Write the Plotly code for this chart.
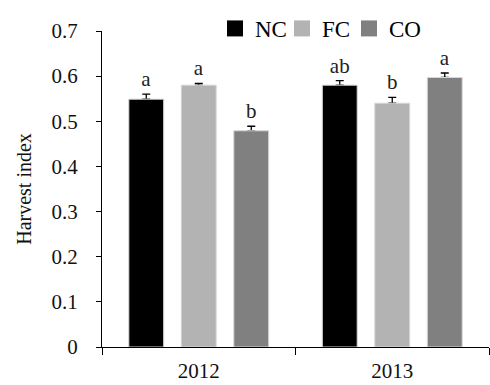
import plotly.graph_objects as go

# Harvest index by year and treatment
years = ["2012", "2013"]
treatments = ["NC", "FC", "CO"]
harvest_index = {
    "NC": [0.549, 0.580],
    "FC": [0.580, 0.540],
    "CO": [0.479, 0.597],
}
std_err = {
    "NC": [0.011, 0.010],
    "FC": [0.004, 0.013],
    "CO": [0.010, 0.010],
}
letters = {
    "NC": ["a", "ab"],
    "FC": ["a", "b"],
    "CO": ["b", "a"],
}
colors = {"NC": "#000000", "FC": "#b3b3b3", "CO": "#808080"}

FONT = "Liberation Serif"

fig = go.Figure()

# Error bars and significance letters sit in transparent bars that share
# each treatment's slot; the filled bars are drawn after them on top.
for t in treatments:
    tops = [v + e for v, e in zip(harvest_index[t], std_err[t])]
    fig.add_trace(go.Bar(
        x=years, y=harvest_index[t], offsetgroup=t, showlegend=False,
        marker=dict(color="rgba(0,0,0,0)", line=dict(width=0)),
        error_y=dict(type="data", symmetric=False, array=std_err[t],
                     arrayminus=[0] * len(years), color="black",
                     thickness=1.3, width=4),
        hoverinfo="skip",
    ))
    fig.add_trace(go.Bar(
        x=years, y=tops, offsetgroup=t, showlegend=False,
        marker=dict(color="rgba(0,0,0,0)", line=dict(width=0)),
        text=letters[t], textposition="outside", cliponaxis=False,
        constraintext="none",
        outsidetextfont=dict(family=FONT, size=21, color="#222222"),
        hoverinfo="skip",
    ))

for t in treatments:
    fig.add_trace(go.Bar(
        x=years, y=harvest_index[t], name=t, offsetgroup=t,
        marker=dict(color=colors[t], line=dict(color="#d6d6d6", width=1)),
        showlegend=False,
    ))
    # legend entry with a larger square swatch
    fig.add_trace(go.Scatter(
        x=[None], y=[None], mode="markers", name=t,
        marker=dict(symbol="square", size=16, color=colors[t]),
    ))

# blank trailing legend slot so the last label has room
fig.add_trace(go.Scatter(
    x=[None], y=[None], mode="markers", name=" ",
    marker=dict(symbol="square", size=1, color="rgba(0,0,0,0)"),
))

fig.update_layout(
    width=490, height=385,
    margin=dict(l=102, r=1, t=31, b=38),
    paper_bgcolor="white", plot_bgcolor="white",
    font=dict(family=FONT, size=20, color="black"),
    barmode="group", bargap=0.186, bargroupgap=0.336,
    showlegend=True,
    legend=dict(orientation="h", x=0.292, xanchor="left",
                y=1.008, yanchor="middle",
                font=dict(family=FONT, size=23, color="black"),
                entrywidth=22, entrywidthmode="pixels",
                bgcolor="rgba(0,0,0,0)", itemclick=False),
)

fig.update_xaxes(
    type="category", categoryorder="array", categoryarray=years,
    showline=True, linecolor="black", linewidth=1.3,
    ticks="outside", ticklen=7, tickcolor="black", tickwidth=1.3,
    tickson="boundaries", showgrid=False, zeroline=False,
    ticklabelstandoff=5, automargin=False,
    tickfont=dict(family=FONT, size=21, color="#111111"),
)
fig.update_yaxes(
    range=[0, 0.7], dtick=0.1, tick0=0,
    showline=True, linecolor="black", linewidth=1.3,
    ticks="outside", ticklen=5, tickcolor="black", tickwidth=1.3,
    showgrid=False, zeroline=False, ticklabelstandoff=14,
    automargin=False,
    tickfont=dict(family=FONT, size=21, color="#111111"),
    title=dict(text="Harvest index", standoff=14,
               font=dict(family=FONT, size=20, color="#111111")),
)

fig.write_html("out.html")
